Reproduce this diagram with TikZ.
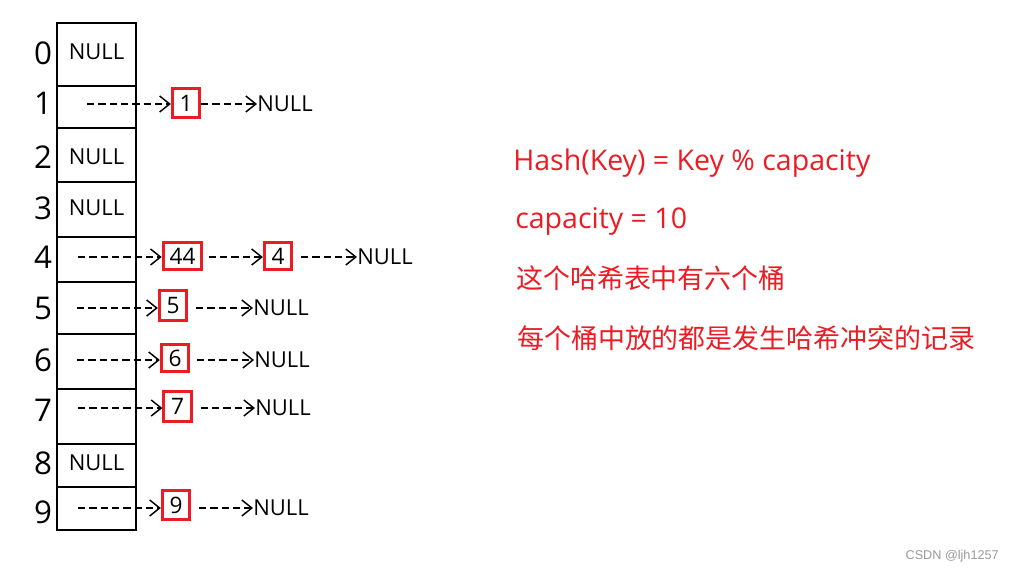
\documentclass[tikz,border=0pt]{standalone}
\usepackage{fontspec}
\setmainfont{Open Sans}
\newfontfamily\cjk{Noto Sans CJK SC}
\newfontfamily\wmfont{Liberation Sans}
\usepackage{xcolor}
\usetikzlibrary{arrows.meta, positioning}
\definecolor{keyred}{RGB}{235,28,36}

\begin{document}
\begin{tikzpicture}[
  x=0.75pt, y=-0.75pt,
  cell/.style={draw, line width=1pt, minimum width=59.25pt, inner sep=0pt},
  idx/.style={inner sep=0pt, font=\fontsize{23.5}{27}\selectfont},
  nul/.style={inner sep=0pt, font=\fontsize{16.5}{19}\selectfont},
  key/.style={draw=keyred, line width=2.2pt, minimum width=20.5pt, minimum height=22pt, inner sep=1pt, font=\fontsize{17}{19}\selectfont},
  link/.style={draw, line width=1pt, dash pattern=on 5.5pt off 3pt, -{Straight Barb[length=7.5pt, width=12pt, line width=1.1pt]}},
  note/.style={text=keyred, anchor=west, inner sep=0pt, font=\fontsize{21.4}{25}\selectfont}
]
  \useasboundingbox (0,0) rectangle (1015,572);

  % buckets
  \foreach \i/\t/\b in {0/23/86, 1/86/128, 2/128/182, 3/182/237, 4/237/282,
                        5/282/334, 6/334/389, 7/389/444, 8/444/487, 9/487/530}
    \node[cell, minimum height={(\b-\t)*0.75pt}] (c\i) at (96.5, {(\t+\b)/2}) {};

  \foreach \i/\y in {0/53, 1/103, 2/157, 3/208, 4/257, 5/308, 6/360, 7/410, 8/463, 9/512}
    \node[idx] (i\i) at (43, \y) {\i};

  \node[nul] (e0) at (96.5, 52) {NULL};
  \node[nul] (e2) at (96.5, 157) {NULL};
  \node[nul] (e3) at (96.5, 208) {NULL};
  \node[nul] (e8) at (96.5, 463) {NULL};

  % chains
  \coordinate (s1) at (87, 104);
  \node[key] (k1) at (186, 103) {1};
  \node[nul, anchor=west] (n1) at (257, 104) {NULL};

  \coordinate (s4) at (78, 257);
  \node[key, minimum width=29pt, minimum height=20pt] (k44) at (182.5, 256) {44};
  \node[key, minimum height=20pt] (k4) at (278, 256) {4};
  \node[nul, anchor=west] (n4) at (357, 257) {NULL};

  \coordinate (s5) at (77, 308);
  \node[key] (k5) at (173, 305.5) {5};
  \node[nul, anchor=west] (n5) at (253, 308) {NULL};

  \coordinate (s6) at (77, 360);
  \node[key, minimum height=20pt] (k6) at (175, 358) {6};
  \node[nul, anchor=west] (n6) at (254, 360) {NULL};

  \coordinate (s7) at (78, 408);
  \node[key] (k7) at (177.5, 406.5) {7};
  \node[nul, anchor=west] (n7) at (255, 408) {NULL};

  \coordinate (s9) at (78, 508);
  \node[key] (k9) at (176, 505) {9};
  \node[nul, anchor=west] (n9) at (253, 508) {NULL};

  \draw[link] (s1) -- (s1 -| k1.west);
  \draw[link] (s1 -| k1.east) -- (n1.west);

  \draw[link] (s4) -- (s4 -| k44.west);
  \draw[link] ([xshift=4pt]s4 -| k44.east) -- (s4 -| k4.west);
  \draw[link] ([xshift=6pt]s4 -| k4.east) -- (n4.west);

  \draw[link] (s5) -- (s5 -| k5.west);
  \draw[link] ([xshift=6pt]s5 -| k5.east) -- (n5.west);

  \draw[link] (s6) -- (s6 -| k6.west);
  \draw[link] ([xshift=5pt]s6 -| k6.east) -- (n6.west);

  \draw[link] (s7) -- (s7 -| k7.west);
  \draw[link] ([xshift=6pt]s7 -| k7.east) -- (n7.west);

  \draw[link] (s9) -- (s9 -| k9.west);
  \draw[link] ([xshift=6pt]s9 -| k9.east) -- (n9.west);

  % notes
  \node[note] (hash) at (513, 163) {Hash(Key) = Key \% capacity};
  \node[note] (cap) at (515, 221) {capacity = 10};
  \node[note, font=\cjk\fontsize{20.2}{24}\selectfont] (six) at (516, 278) {这个哈希表中有六个桶};
  \node[note, font=\cjk\fontsize{20.2}{24}\selectfont] (each) at (517, 338) {每个桶中放的都是发生哈希冲突的记录};

  \node[anchor=east, inner sep=0pt, text=black!40, font=\wmfont\fontsize{9.5}{11}\selectfont] (mark) at (999, 556) {CSDN @ljh1257};
\end{tikzpicture}
\end{document}
